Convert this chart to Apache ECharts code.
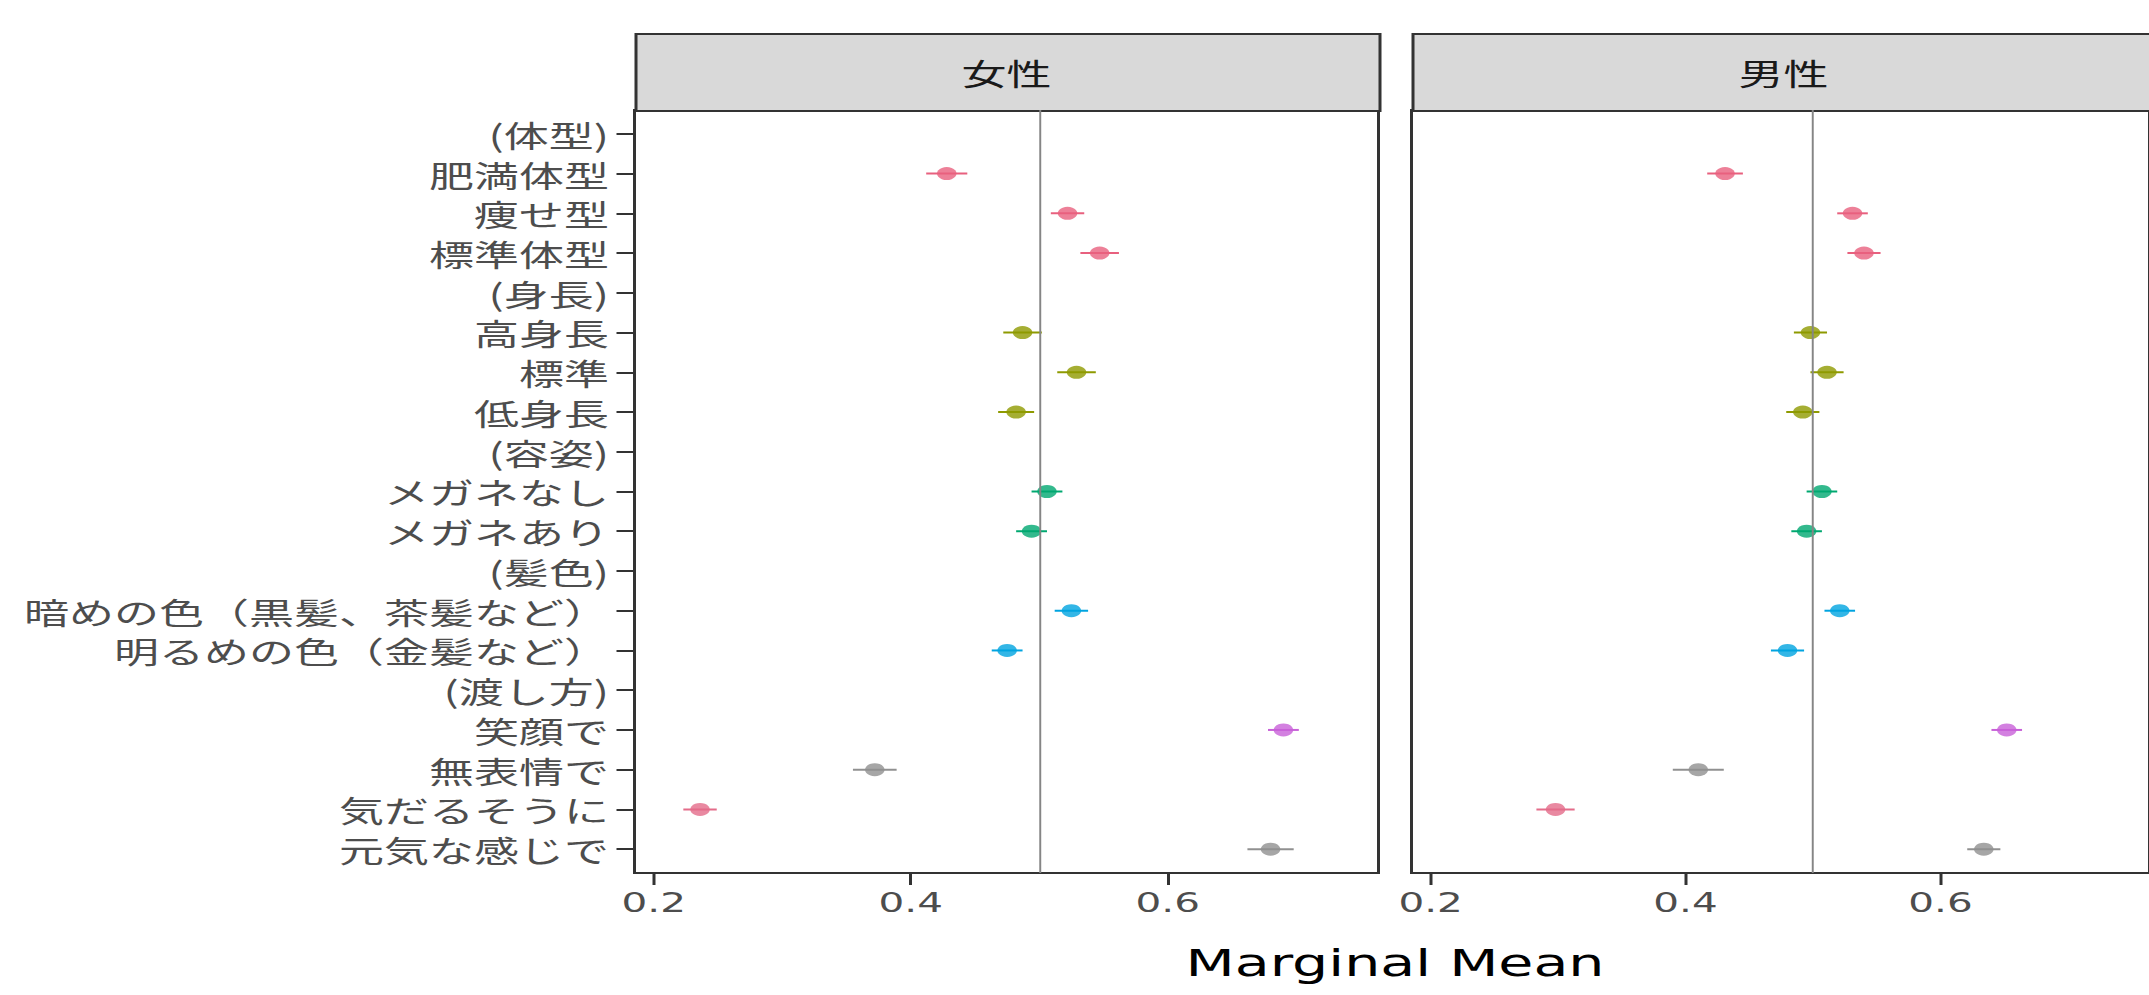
<!DOCTYPE html>
<html>
<head>
<meta charset="utf-8">
<script src="https://cdn.jsdelivr.net/npm/echarts@6/dist/echarts.min.js"></script>
<style>
html,body{margin:0;padding:0;background:#fff;overflow:hidden;width:2149px;height:995px;}
#wrap{width:1433px;height:995px;transform:scaleX(1.5);transform-origin:0 0;}
</style>
</head>
<body>
<div id="wrap"></div>
<script>
// ---- data ----
const categories = [
  '(体型)', '肥満体型', '痩せ型', '標準体型',
  '(身長)', '高身長', '標準', '低身長',
  '(容姿)', 'メガネなし', 'メガネあり',
  '(髪色)', '暗めの色（黒髪、茶髪など）', '明るめの色（金髪など）',
  '(渡し方)', '笑顔で', '無表情で', '気だるそうに', '元気な感じで'
];
const panels = ['女性', '男性'];
const femaleMean = [null, 0.428, 0.522, 0.547, null, 0.487, 0.529, 0.482, null, 0.506, 0.494, null, 0.525, 0.475, null, 0.690, 0.372, 0.236, 0.680];
const femaleErr  = [null, 0.016, 0.013, 0.015, null, 0.015, 0.015, 0.014, null, 0.012, 0.012, null, 0.013, 0.012, null, 0.012, 0.017, 0.013, 0.018];
const maleMean   = [null, 0.431, 0.531, 0.540, null, 0.498, 0.511, 0.492, null, 0.507, 0.495, null, 0.521, 0.480, null, 0.652, 0.410, 0.298, 0.634];
const maleErr    = [null, 0.014, 0.012, 0.013, null, 0.013, 0.013, 0.013, null, 0.012, 0.012, null, 0.012, 0.013, null, 0.012, 0.020, 0.015, 0.013];
const rowColors  = [null, '#E8607E', '#E8607E', '#E8607E', null, '#8E9A00', '#8E9A00', '#8E9A00', null, '#00A870', '#00A870', null, '#00A4E0', '#00A4E0', null, '#C860D8', '#909090', '#E46C8A', '#909090'];
const xTicks = [0.2, 0.4, 0.6];
const xTitle = 'Marginal Mean';

// ---- layout ----
const gridTop = 110, gridHeight = 763, gridW = 496;
const gridLefts = [423, 941];
const stripTop = 33, stripH = 77;
const cjk = '"Noto Sans CJK JP", "Noto Sans CJK SC", sans-serif';
const latin = '"DejaVu Sans", sans-serif';

const chart = echarts.init(document.getElementById('wrap'), null, {renderer: 'svg'});

const idx = categories.map((_, i) => i);
const grids = [], xAxes = [], yAxes = [], series = [], graphics = [];
const allMeans = [femaleMean, maleMean];
const allErrs = [femaleErr, maleErr];

panels.forEach((name, p) => {
  grids.push({
    left: gridLefts[p], top: gridTop, width: gridW, height: gridHeight,
    show: true, borderColor: '#333333', borderWidth: 2, backgroundColor: '#ffffff'
  });
  xAxes.push({
    type: 'value', gridIndex: p, min: 0.185, max: 0.764, position: 'bottom',
    axisLine: {show: true, onZero: false, lineStyle: {color: '#333333', width: 2}},
    axisTick: {show: true, length: 12, lineStyle: {color: '#333333', width: 2}, customValues: xTicks},
    axisLabel: {show: true, margin: 16, fontSize: 27, color: '#4d4d4d', fontFamily: latin,
      customValues: xTicks, formatter: v => v.toFixed(1)},
    splitLine: {show: false}
  });
  yAxes.push({
    type: 'value', gridIndex: p, min: -0.6, max: 18.6, inverse: true, position: 'left',
    axisLine: {show: true, onZero: false, lineStyle: {color: '#333333', width: 2}},
    axisTick: {show: p === 0, length: 12, lineStyle: {color: '#333333', width: 2}, customValues: idx},
    axisLabel: {show: p === 0, margin: 17, fontSize: 30, color: '#4d4d4d', fontFamily: cjk,
      customValues: idx, formatter: v => categories[Math.round(v)]},
    splitLine: {show: false}
  });
  const means = allMeans[p], errs = allErrs[p];
  const pts = [], bars = [];
  means.forEach((m, i) => {
    if (m === null) return;
    pts.push({value: [m, i], itemStyle: {color: rowColors[i]}});
    bars.push({value: [m - errs[i], i, m + errs[i]], color: rowColors[i]});
  });
  series.push({
    type: 'custom', xAxisIndex: p, yAxisIndex: p, z: 2,
    encode: {x: [0, 2], y: 1},
    data: bars,
    renderItem: (params, api) => {
      const a = api.coord([api.value(0), api.value(1)]);
      const b = api.coord([api.value(2), api.value(1)]);
      return {type: 'line', shape: {x1: a[0], y1: a[1], x2: b[0], y2: b[1]},
        style: {stroke: bars[params.dataIndex].color, lineWidth: 2}};
    },
    markLine: {silent: true, symbol: 'none', label: {show: false},
      lineStyle: {color: '#858585', width: 1.3, type: 'solid'},
      data: [{xAxis: 0.5}]}
  });
  series.push({
    type: 'scatter', xAxisIndex: p, yAxisIndex: p, z: 3,
    symbol: 'circle', symbolSize: 13, data: pts
  });
  graphics.push({
    type: 'rect', left: gridLefts[p], top: stripTop, z: 5,
    shape: {width: gridW, height: stripH},
    style: {fill: '#d9d9d9', stroke: '#333333', lineWidth: 2}
  });
  graphics.push({
    type: 'text', x: gridLefts[p] + gridW / 2, y: stripTop + stripH / 2 + 1, z: 6,
    style: {text: name, fill: '#1a1a1a', fontSize: 30, fontFamily: cjk,
      textAlign: 'center', textVerticalAlign: 'middle'}
  });
});

graphics.push({
  type: 'text', x: (gridLefts[0] + gridLefts[1] + gridW) / 2, y: 963, z: 6,
  style: {text: xTitle, fill: '#000000', fontSize: 38, fontFamily: latin,
    textAlign: 'center', textVerticalAlign: 'middle'}
});

chart.setOption({
  animation: false,
  backgroundColor: '#ffffff',
  grid: grids,
  xAxis: xAxes,
  yAxis: yAxes,
  series: series,
  graphic: graphics
});
</script>
</body>
</html>
